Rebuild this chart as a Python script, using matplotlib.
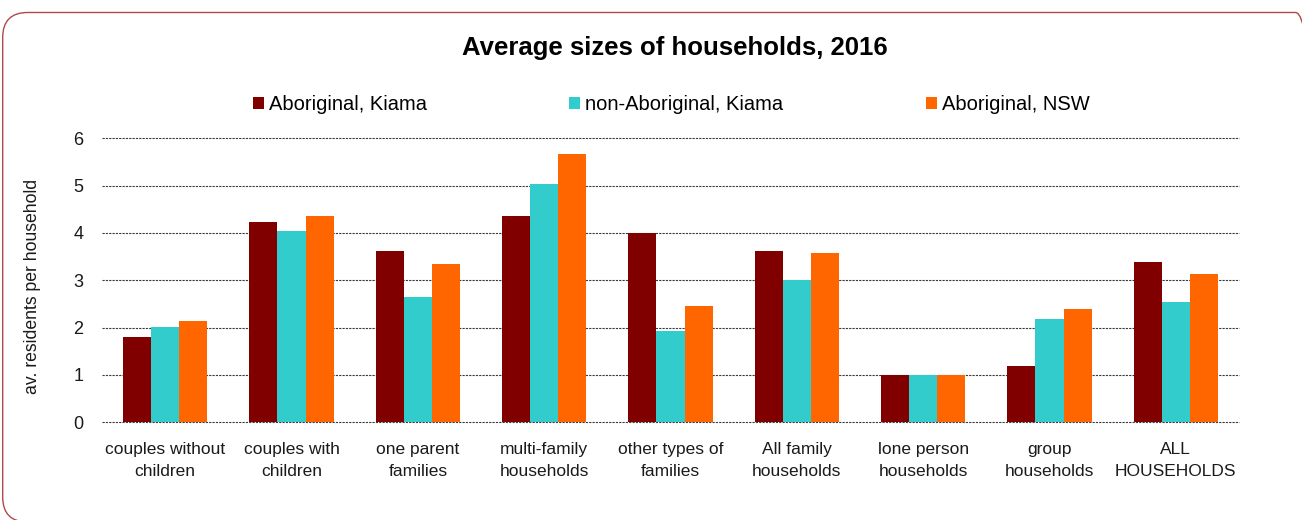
import numpy as np
from matplotlib import pyplot as plt
from matplotlib.patches import FancyBboxPatch

categories = ['couples without\nchildren', 'couples with\nchildren', 'one parent\nfamilies',
              'multi-family\nhouseholds', 'other types of\nfamilies', 'All family\nhouseholds',
              'lone person\nhouseholds', 'group\nhouseholds', 'ALL\nHOUSEHOLDS']
series_names = ['Aboriginal, Kiama', 'non-Aboriginal, Kiama', 'Aboriginal, NSW']
aboriginal_kiama = [1.80, 4.23, 3.62, 4.35, 4.00, 3.61, 1.00, 1.20, 3.39]
non_aboriginal_kiama = [2.01, 4.04, 2.64, 5.04, 1.93, 3.00, 1.00, 2.18, 2.54]
aboriginal_nsw = [2.15, 4.35, 3.34, 5.67, 2.45, 3.58, 1.00, 2.39, 3.14]
y_ticks = [0, 1, 2, 3, 4, 5, 6]

colors = ['#800000', '#33CCCC', '#FF6600']
font = 'Liberation Sans'

W, H = 1302, 520
fig = plt.figure(figsize=(W / 100, H / 100), dpi=100)

# rounded frame round the whole chart, in pixels
frame = FancyBboxPatch((2.7, -2), 1318, 509.5, boxstyle='round,pad=0,rounding_size=25',
                       transform=None, facecolor='none', edgecolor='#B3474A', linewidth=1.0)
fig.patches.append(frame)

ax = fig.add_axes([102 / W, 1 - 422.3 / H, 1137 / W, 284 / H])

x = np.arange(len(categories))
bar_w = 0.222
all_values = [aboriginal_kiama, non_aboriginal_kiama, aboriginal_nsw]
for i, values in enumerate(all_values):
    ax.bar(x + (i - 1) * bar_w, values, width=bar_w, color=colors[i], label=series_names[i], zorder=3)

ax.set_xlim(-0.5, len(categories) - 0.5)
ax.set_ylim(0, 6)
ax.set_yticks(y_ticks)
ax.set_yticklabels([str(t) for t in y_ticks], fontsize=13, family=font)
ax.set_xticks(x)
ax.set_xticklabels(categories, fontsize=12.5, family=font, linespacing=1.62)
ax.tick_params(axis='both', length=0, colors='#1a1a1a')
ax.tick_params(axis='y', pad=13.5)
ax.tick_params(axis='x', pad=14)
for spine in ax.spines.values():
    spine.set_visible(False)
ax.grid(axis='y', linestyle=(0, (2, 1)), linewidth=0.8, color='#3a3a3a', zorder=0)
for line in ax.get_ygridlines():
    line.set_clip_on(False)
ax.set_axisbelow(True)

fig.text(675 / W, 1 - 48 / H, 'Average sizes of households, 2016', ha='center', va='center',
         fontsize=18.5, fontweight='bold', family=font)
fig.text(33 / W, 1 - 286 / H, 'av. residents per household', rotation=90, ha='center', va='center',
         fontsize=12.7, family=font, color='#1a1a1a')

fig.legend(loc='center', bbox_to_anchor=(671 / W, 1 - 105 / H), ncol=3, frameon=False,
           prop={'family': font, 'size': 14.5}, handlelength=0.55, handleheight=0.55,
           handletextpad=0.25, columnspacing=7.07, borderpad=0, borderaxespad=0)

fig.savefig('out.png', dpi=100)
